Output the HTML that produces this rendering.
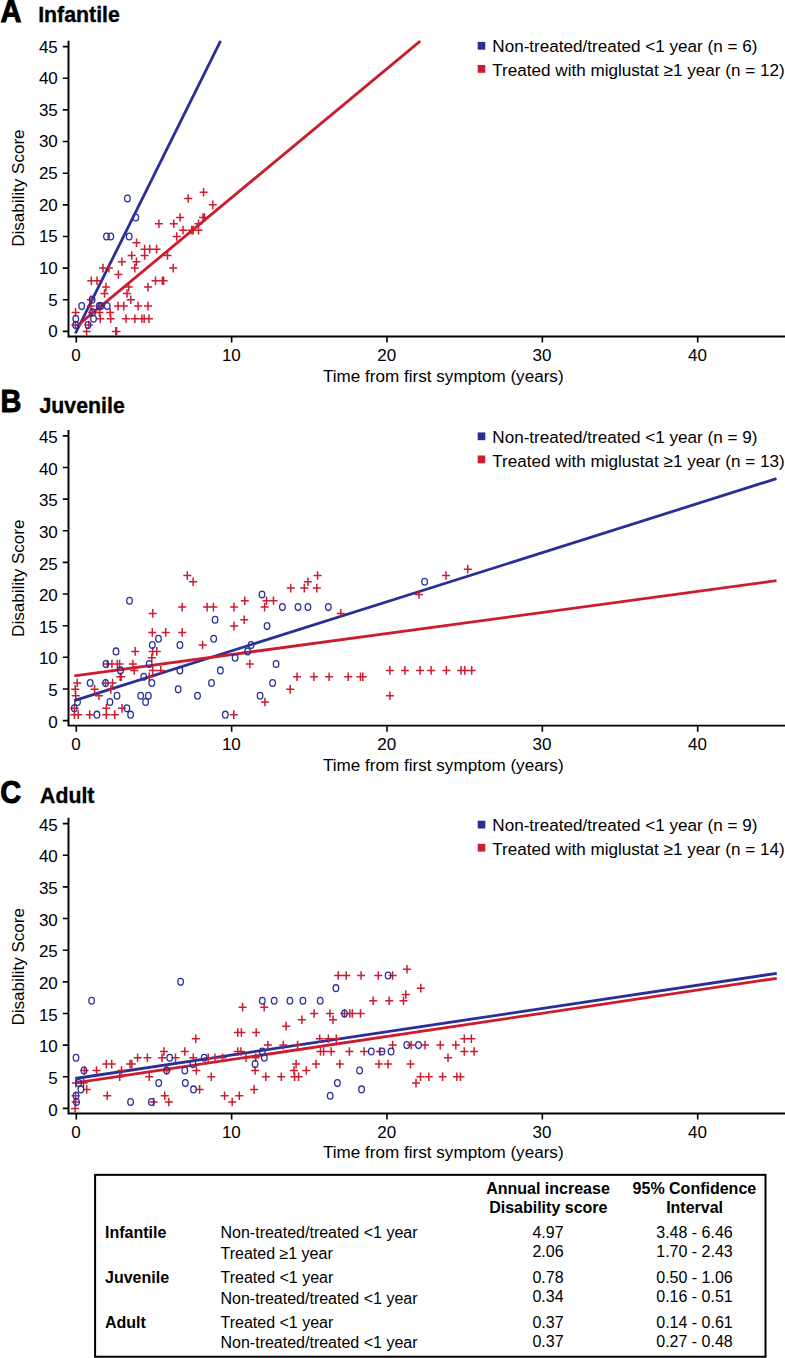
<!DOCTYPE html><html><head><meta charset="utf-8"><style>html,body{margin:0;padding:0;background:#fff;}body{width:785px;height:1358px;overflow:hidden;position:relative;}svg{position:absolute;left:0;top:0;}</style></head><body>
<svg width="785" height="1358" viewBox="0 0 785 1358" font-family='"Liberation Sans", sans-serif' font-size="17" fill="#000">
<g stroke="#000" fill="none">
<path d="M68.5 40.8 V336.4 H786" stroke-width="1.95"/>
<path d="M62.8 331.4H68M62.8 299.76H68M62.8 268.12H68M62.8 236.48H68M62.8 204.84H68M62.8 173.2H68M62.8 141.56H68M62.8 109.92H68M62.8 78.28H68M62.8 46.64H68" stroke-width="1.6"/>
<path d="M76.3 337V342.6M231.65 337V342.6M387 337V342.6M542.35 337V342.6M697.7 337V342.6" stroke-width="1.6"/>
</g>
<g text-anchor="end">
<text x="57.8" y="337.3">0</text>
<text x="57.8" y="305.66">5</text>
<text x="57.8" y="274.02">10</text>
<text x="57.8" y="242.38">15</text>
<text x="57.8" y="210.74">20</text>
<text x="57.8" y="179.1">25</text>
<text x="57.8" y="147.46">30</text>
<text x="57.8" y="115.82">35</text>
<text x="57.8" y="84.18">40</text>
<text x="57.8" y="52.54">45</text>
</g>
<g text-anchor="middle">
<text x="76" y="361.2">0</text>
<text x="231.35" y="361.2">10</text>
<text x="386.7" y="361.2">20</text>
<text x="542.05" y="361.2">30</text>
<text x="697.4" y="361.2">40</text>
</g>
<text x="323" y="381.6" font-size="17.1">Time from first symptom (years)</text>
<text transform="translate(24.2 188.1) rotate(-90)" text-anchor="middle" font-size="17.05">Disability Score</text>
<text transform="translate(0.4 22.1) scale(0.9 1)" font-weight="bold" font-size="32.2" stroke="#000" stroke-width="1.0">A</text>
<text x="38.2" y="22.3" font-weight="bold" font-size="21.3" stroke="#000" stroke-width="0.35">Infantile</text>
<rect x="477.7" y="41.9" width="7.6" height="7.8" fill="#2a2f98"/>
<rect x="477.7" y="65" width="7.6" height="7.8" fill="#cb1d2f"/>
<text x="492.3" y="52.1" font-size="17.1">Non-treated/treated &lt;1 year (n = 6)</text>
<text x="492.3" y="76" font-size="17.1">Treated with miglustat &#8805;1 year (n = 12)</text>
<line x1="75.4" y1="333.5" x2="220.6" y2="40.9" stroke="#2a2f98" stroke-width="2.8"/>
<line x1="76.8" y1="326.2" x2="420.2" y2="41.1" stroke="#cb1d2f" stroke-width="2.8"/>
<path d="M199.6 192.18h8M203.6 187.88v8.6M184.2 198.51h8M188.2 194.21v8.6M208.8 204.84h8M212.8 200.54v8.6M176.1 217.5h8M180.1 213.2v8.6M199 217.5h8M203 213.2v8.6M200.6 217.5h8M204.6 213.2v8.6M154.9 223.82h8M158.9 219.52v8.6M169.8 223.82h8M173.8 219.52v8.6M194.5 223.82h8M198.5 219.52v8.6M179 230.15h8M183 225.85v8.6M187.6 230.15h8M191.6 225.85v8.6M189.2 230.15h8M193.2 225.85v8.6M194.5 230.15h8M198.5 225.85v8.6M172.7 236.48h8M176.7 232.18v8.6M132.5 242.81h8M136.5 238.51v8.6M140.6 249.14h8M144.6 244.84v8.6M145.7 249.14h8M149.7 244.84v8.6M152.6 249.14h8M156.6 244.84v8.6M127.7 255.46h8M131.7 251.16v8.6M140.6 255.46h8M144.6 251.16v8.6M163.5 255.46h8M167.5 251.16v8.6M117.9 261.79h8M121.9 257.49v8.6M132.4 261.79h8M136.4 257.49v8.6M99 268.12h8M103 263.82v8.6M104.9 268.12h8M108.9 263.82v8.6M130.8 268.12h8M134.8 263.82v8.6M169.2 268.12h8M173.2 263.82v8.6M114.4 274.45h8M118.4 270.15v8.6M87.3 280.78h8M91.3 276.48v8.6M93 280.78h8M97 276.48v8.6M151.5 280.78h8M155.5 276.48v8.6M158.4 280.78h8M162.4 276.48v8.6M159.6 280.78h8M163.6 276.48v8.6M102 287.1h8M106 282.8v8.6M124.7 287.1h8M128.7 282.8v8.6M144 287.1h8M148 282.8v8.6M100.5 293.43h8M104.5 289.13v8.6M123 293.43h8M127 289.13v8.6M86.9 299.76h8M90.9 295.46v8.6M126.8 299.76h8M130.8 295.46v8.6M86.9 306.09h8M90.9 301.79v8.6M95.9 306.09h8M99.9 301.79v8.6M114.1 306.09h8M118.1 301.79v8.6M119.8 306.09h8M123.8 301.79v8.6M134.1 306.09h8M138.1 301.79v8.6M144 306.09h8M148 301.79v8.6M71.6 312.42h8M75.6 308.12v8.6M88.1 312.42h8M92.1 308.12v8.6M95.5 312.42h8M99.5 308.12v8.6M106.1 312.42h8M110.1 308.12v8.6M96.3 318.74h8M100.3 314.44v8.6M106.7 318.74h8M110.7 314.44v8.6M122 318.74h8M126 314.44v8.6M130.9 318.74h8M134.9 314.44v8.6M137.9 318.74h8M141.9 314.44v8.6M140.2 318.74h8M144.2 314.44v8.6M145 318.74h8M149 314.44v8.6M71.4 325.07h8M75.4 320.77v8.6M84.8 325.07h8M88.8 320.77v8.6M82.6 331.4h8M86.6 327.1v8.6M111.8 331.4h8M115.8 327.1v8.6M112.6 331.4h8M116.6 327.1v8.6" stroke="#cb1d2f" stroke-width="1.5" fill="none"/>
<g stroke="#2a2f98" stroke-width="1.3" fill="none">
<ellipse cx="127.4" cy="198.51" rx="2.8" ry="3.4"/><ellipse cx="135.8" cy="217.5" rx="2.8" ry="3.4"/><ellipse cx="106.5" cy="236.48" rx="2.8" ry="3.4"/><ellipse cx="110.8" cy="236.48" rx="2.8" ry="3.4"/><ellipse cx="129.2" cy="236.48" rx="2.8" ry="3.4"/><ellipse cx="92.1" cy="299.76" rx="2.8" ry="3.4"/><ellipse cx="81.7" cy="306.09" rx="2.8" ry="3.4"/><ellipse cx="99.2" cy="306.09" rx="2.8" ry="3.4"/><ellipse cx="100.8" cy="306.09" rx="2.8" ry="3.4"/><ellipse cx="107.2" cy="306.09" rx="2.8" ry="3.4"/><ellipse cx="92.5" cy="312.42" rx="2.8" ry="3.4"/><ellipse cx="75.8" cy="318.74" rx="2.8" ry="3.4"/><ellipse cx="93.5" cy="318.74" rx="2.8" ry="3.4"/><ellipse cx="75.6" cy="325.07" rx="2.8" ry="3.4"/><ellipse cx="88" cy="325.07" rx="2.8" ry="3.4"/>
</g>
<g stroke="#000" fill="none">
<path d="M68.5 430 V725.6 H786" stroke-width="1.95"/>
<path d="M62.8 720.6H68M62.8 688.96H68M62.8 657.32H68M62.8 625.68H68M62.8 594.04H68M62.8 562.4H68M62.8 530.76H68M62.8 499.12H68M62.8 467.48H68M62.8 435.84H68" stroke-width="1.6"/>
<path d="M76.3 726.2V731.8M231.65 726.2V731.8M387 726.2V731.8M542.35 726.2V731.8M697.7 726.2V731.8" stroke-width="1.6"/>
</g>
<g text-anchor="end">
<text x="57.8" y="727.7">0</text>
<text x="57.8" y="696.06">5</text>
<text x="57.8" y="664.42">10</text>
<text x="57.8" y="632.78">15</text>
<text x="57.8" y="601.14">20</text>
<text x="57.8" y="569.5">25</text>
<text x="57.8" y="537.86">30</text>
<text x="57.8" y="506.22">35</text>
<text x="57.8" y="474.58">40</text>
<text x="57.8" y="442.94">45</text>
</g>
<g text-anchor="middle">
<text x="76" y="750.4">0</text>
<text x="231.35" y="750.4">10</text>
<text x="386.7" y="750.4">20</text>
<text x="542.05" y="750.4">30</text>
<text x="697.4" y="750.4">40</text>
</g>
<text x="323" y="770.8" font-size="17.1">Time from first symptom (years)</text>
<text transform="translate(24.2 578.2) rotate(-90)" text-anchor="middle" font-size="17.05">Disability Score</text>
<text transform="translate(0.5 411.6) scale(0.9 1)" font-weight="bold" font-size="32.2" stroke="#000" stroke-width="1.0">B</text>
<text x="39.5" y="412.9" font-weight="bold" font-size="21.3" stroke="#000" stroke-width="0.35">Juvenile</text>
<rect x="477.7" y="432.4" width="7.6" height="7.8" fill="#2a2f98"/>
<rect x="477.7" y="455.5" width="7.6" height="7.8" fill="#cb1d2f"/>
<text x="492.3" y="442.6" font-size="17.1">Non-treated/treated &lt;1 year (n = 9)</text>
<text x="492.3" y="466.5" font-size="17.1">Treated with miglustat &#8805;1 year (n = 13)</text>
<line x1="74.3" y1="700.6" x2="776.5" y2="478.6" stroke="#2a2f98" stroke-width="2.8"/>
<line x1="74.3" y1="675.9" x2="776.5" y2="580.7" stroke="#cb1d2f" stroke-width="2.8"/>
<path d="M463.8 569.13h8M467.8 564.83v8.6M183.3 575.46h8M187.3 571.16v8.6M313.6 575.46h8M317.6 571.16v8.6M442 575.46h8M446 571.16v8.6M189.1 581.78h8M193.1 577.48v8.6M303.9 581.78h8M307.9 577.48v8.6M286.7 588.11h8M290.7 583.81v8.6M300.3 588.11h8M304.3 583.81v8.6M312.8 588.11h8M316.8 583.81v8.6M414.9 594.44h8M418.9 590.14v8.6M240.8 600.77h8M244.8 596.47v8.6M262.5 600.77h8M266.5 596.47v8.6M269.5 600.77h8M273.5 596.47v8.6M178.2 607.1h8M182.2 602.8v8.6M203.1 607.1h8M207.1 602.8v8.6M209.4 607.1h8M213.4 602.8v8.6M230 607.1h8M234 602.8v8.6M260.6 607.1h8M264.6 602.8v8.6M148.7 613.42h8M152.7 609.12v8.6M336.8 613.42h8M340.8 609.12v8.6M240.2 619.75h8M244.2 615.45v8.6M230 626.08h8M234 621.78v8.6M148.3 632.41h8M152.3 628.11v8.6M161.7 632.41h8M165.7 628.11v8.6M178.2 632.41h8M182.2 628.11v8.6M198.6 645.06h8M202.6 640.76v8.6M131.2 651.39h8M135.2 647.09v8.6M148.7 651.39h8M152.7 647.09v8.6M152.8 651.39h8M156.8 647.09v8.6M147.8 657.72h8M151.8 653.42v8.6M103.4 664.05h8M107.4 659.75v8.6M107.9 664.05h8M111.9 659.75v8.6M113.3 664.05h8M117.3 659.75v8.6M115.6 664.05h8M119.6 659.75v8.6M128.9 664.05h8M132.9 659.75v8.6M245.8 664.05h8M249.8 659.75v8.6M130.2 670.38h8M134.2 666.08v8.6M148.7 670.38h8M152.7 666.08v8.6M156.8 670.38h8M160.8 666.08v8.6M385.9 670.38h8M389.9 666.08v8.6M400.9 670.38h8M404.9 666.08v8.6M416.1 670.38h8M420.1 666.08v8.6M427.1 670.38h8M431.1 666.08v8.6M442.4 670.38h8M446.4 666.08v8.6M457 670.38h8M461 666.08v8.6M460.8 670.38h8M464.8 666.08v8.6M467.7 670.38h8M471.7 666.08v8.6M116.2 676.7h8M120.2 672.4v8.6M117.2 676.7h8M121.2 672.4v8.6M145.2 676.7h8M149.2 672.4v8.6M293 676.7h8M297 672.4v8.6M309.9 676.7h8M313.9 672.4v8.6M325.1 676.7h8M329.1 672.4v8.6M344.2 676.7h8M348.2 672.4v8.6M356.5 676.7h8M360.5 672.4v8.6M358.8 676.7h8M362.8 672.4v8.6M73.2 683.03h8M77.2 678.73v8.6M101.6 683.03h8M105.6 678.73v8.6M108.5 683.03h8M112.5 678.73v8.6M71.2 689.36h8M75.2 685.06v8.6M90.6 689.36h8M94.6 685.06v8.6M106.8 689.36h8M110.8 685.06v8.6M286.2 689.36h8M290.2 685.06v8.6M71.7 695.69h8M75.7 691.39v8.6M95 695.69h8M99 691.39v8.6M385.9 695.69h8M389.9 691.39v8.6M260.9 702.02h8M264.9 697.72v8.6M70.4 708.34h8M74.4 704.04v8.6M102.3 708.34h8M106.3 704.04v8.6M118 708.34h8M122 704.04v8.6M70.4 714.67h8M74.4 710.37v8.6M74.2 714.67h8M78.2 710.37v8.6M85.7 714.67h8M89.7 710.37v8.6M102.3 714.67h8M106.3 710.37v8.6M110.8 714.67h8M114.8 710.37v8.6M229.8 714.67h8M233.8 710.37v8.6" stroke="#cb1d2f" stroke-width="1.5" fill="none"/>
<g stroke="#2a2f98" stroke-width="1.3" fill="none">
<ellipse cx="129.5" cy="600.77" rx="2.8" ry="3.4"/><ellipse cx="116" cy="651.39" rx="2.8" ry="3.4"/><ellipse cx="105.9" cy="664.05" rx="2.8" ry="3.4"/><ellipse cx="120.5" cy="670.38" rx="2.8" ry="3.4"/><ellipse cx="90.2" cy="683.03" rx="2.8" ry="3.4"/><ellipse cx="105.6" cy="683.03" rx="2.8" ry="3.4"/><ellipse cx="117" cy="695.69" rx="2.8" ry="3.4"/><ellipse cx="77.5" cy="702.02" rx="2.8" ry="3.4"/><ellipse cx="109.9" cy="702.02" rx="2.8" ry="3.4"/><ellipse cx="74.3" cy="708.34" rx="2.8" ry="3.4"/><ellipse cx="126.9" cy="708.34" rx="2.8" ry="3.4"/><ellipse cx="96.9" cy="714.67" rx="2.8" ry="3.4"/><ellipse cx="130.6" cy="714.67" rx="2.8" ry="3.4"/><ellipse cx="158.5" cy="638.74" rx="2.8" ry="3.4"/><ellipse cx="152.3" cy="645.06" rx="2.8" ry="3.4"/><ellipse cx="179.9" cy="645.06" rx="2.8" ry="3.4"/><ellipse cx="149.2" cy="664.05" rx="2.8" ry="3.4"/><ellipse cx="179.9" cy="670.38" rx="2.8" ry="3.4"/><ellipse cx="143.8" cy="676.7" rx="2.8" ry="3.4"/><ellipse cx="151.8" cy="683.03" rx="2.8" ry="3.4"/><ellipse cx="178.2" cy="689.36" rx="2.8" ry="3.4"/><ellipse cx="140.7" cy="695.69" rx="2.8" ry="3.4"/><ellipse cx="148.3" cy="695.69" rx="2.8" ry="3.4"/><ellipse cx="197.5" cy="695.69" rx="2.8" ry="3.4"/><ellipse cx="145.6" cy="702.02" rx="2.8" ry="3.4"/><ellipse cx="215.1" cy="619.75" rx="2.8" ry="3.4"/><ellipse cx="213.7" cy="638.74" rx="2.8" ry="3.4"/><ellipse cx="251.1" cy="645.06" rx="2.8" ry="3.4"/><ellipse cx="247.6" cy="651.39" rx="2.8" ry="3.4"/><ellipse cx="235.1" cy="657.72" rx="2.8" ry="3.4"/><ellipse cx="220.4" cy="670.38" rx="2.8" ry="3.4"/><ellipse cx="211.5" cy="683.03" rx="2.8" ry="3.4"/><ellipse cx="260.1" cy="695.69" rx="2.8" ry="3.4"/><ellipse cx="225.3" cy="714.67" rx="2.8" ry="3.4"/><ellipse cx="262" cy="594.44" rx="2.8" ry="3.4"/><ellipse cx="282.4" cy="607.1" rx="2.8" ry="3.4"/><ellipse cx="298" cy="607.1" rx="2.8" ry="3.4"/><ellipse cx="307.9" cy="607.1" rx="2.8" ry="3.4"/><ellipse cx="328.3" cy="607.1" rx="2.8" ry="3.4"/><ellipse cx="267.1" cy="626.08" rx="2.8" ry="3.4"/><ellipse cx="276.1" cy="664.05" rx="2.8" ry="3.4"/><ellipse cx="272.6" cy="683.03" rx="2.8" ry="3.4"/><ellipse cx="424.6" cy="581.78" rx="2.8" ry="3.4"/>
</g>
<g stroke="#000" fill="none">
<path d="M68.5 817.8 V1113.4 H786" stroke-width="1.95"/>
<path d="M62.8 1108.4H68M62.8 1076.76H68M62.8 1045.12H68M62.8 1013.48H68M62.8 981.84H68M62.8 950.2H68M62.8 918.56H68M62.8 886.92H68M62.8 855.28H68M62.8 823.64H68" stroke-width="1.6"/>
<path d="M76.3 1114V1119.6M231.65 1114V1119.6M387 1114V1119.6M542.35 1114V1119.6M697.7 1114V1119.6" stroke-width="1.6"/>
</g>
<g text-anchor="end">
<text x="57.8" y="1115.5">0</text>
<text x="57.8" y="1083.86">5</text>
<text x="57.8" y="1052.22">10</text>
<text x="57.8" y="1020.58">15</text>
<text x="57.8" y="988.94">20</text>
<text x="57.8" y="957.3">25</text>
<text x="57.8" y="925.66">30</text>
<text x="57.8" y="894.02">35</text>
<text x="57.8" y="862.38">40</text>
<text x="57.8" y="830.74">45</text>
</g>
<g text-anchor="middle">
<text x="76" y="1138.2">0</text>
<text x="231.35" y="1138.2">10</text>
<text x="386.7" y="1138.2">20</text>
<text x="542.05" y="1138.2">30</text>
<text x="697.4" y="1138.2">40</text>
</g>
<text x="323" y="1158" font-size="17.1">Time from first symptom (years)</text>
<text transform="translate(24.2 966.8) rotate(-90)" text-anchor="middle" font-size="17.05">Disability Score</text>
<text transform="translate(0.3 802.7) scale(0.9 1)" font-weight="bold" font-size="32.2" stroke="#000" stroke-width="1.0">C</text>
<text x="40" y="802.8" font-weight="bold" font-size="21.3" stroke="#000" stroke-width="0.35">Adult</text>
<rect x="477.7" y="820.7" width="7.6" height="7.8" fill="#2a2f98"/>
<rect x="477.7" y="843.8" width="7.6" height="7.8" fill="#cb1d2f"/>
<text x="492.3" y="830.9" font-size="17.1">Non-treated/treated &lt;1 year (n = 9)</text>
<text x="492.3" y="854.8" font-size="17.1">Treated with miglustat &#8805;1 year (n = 14)</text>
<line x1="75.3" y1="1078.5" x2="776.8" y2="973.3" stroke="#2a2f98" stroke-width="2.8"/>
<line x1="75.3" y1="1082.9" x2="776.8" y2="978.3" stroke="#cb1d2f" stroke-width="2.8"/>
<path d="M403 969.18h8M407 964.88v8.6M334.2 975.51h8M338.2 971.21v8.6M342.2 975.51h8M346.2 971.21v8.6M357.1 975.51h8M361.1 971.21v8.6M374.3 975.51h8M378.3 971.21v8.6M388.6 975.51h8M392.6 971.21v8.6M416.8 988.17h8M420.8 983.87v8.6M401.8 994.5h8M405.8 990.2v8.6M369.2 1000.82h8M373.2 996.52v8.6M385.2 1000.82h8M389.2 996.52v8.6M399.5 1000.82h8M403.5 996.52v8.6M238.6 1007.15h8M242.6 1002.85v8.6M260.2 1007.15h8M264.2 1002.85v8.6M310.1 1013.48h8M314.1 1009.18v8.6M325.9 1013.48h8M329.9 1009.18v8.6M340.5 1013.48h8M344.5 1009.18v8.6M345.8 1013.48h8M349.8 1009.18v8.6M348.3 1013.48h8M352.3 1009.18v8.6M356.5 1013.48h8M360.5 1009.18v8.6M297.9 1019.81h8M301.9 1015.51v8.6M329 1019.81h8M333 1015.51v8.6M282.1 1026.14h8M286.1 1021.84v8.6M233.8 1032.46h8M237.8 1028.16v8.6M237.4 1032.46h8M241.4 1028.16v8.6M252.2 1032.46h8M256.2 1028.16v8.6M191.8 1038.79h8M195.8 1034.49v8.6M315.7 1038.79h8M319.7 1034.49v8.6M324.4 1038.79h8M328.4 1034.49v8.6M332.3 1038.79h8M336.3 1034.49v8.6M460.3 1038.79h8M464.3 1034.49v8.6M467.4 1038.79h8M471.4 1034.49v8.6M263.9 1045.12h8M267.9 1040.82v8.6M279.3 1045.12h8M283.3 1040.82v8.6M293.6 1045.12h8M297.6 1040.82v8.6M388.7 1045.12h8M392.7 1040.82v8.6M407.1 1045.12h8M411.1 1040.82v8.6M421 1045.12h8M425 1040.82v8.6M436.3 1045.12h8M440.3 1040.82v8.6M451.8 1045.12h8M455.8 1040.82v8.6M159.9 1051.45h8M163.9 1047.15v8.6M180.8 1051.45h8M184.8 1047.15v8.6M233.8 1051.45h8M237.8 1047.15v8.6M236.9 1051.45h8M240.9 1047.15v8.6M316.5 1051.45h8M320.5 1047.15v8.6M319.6 1051.45h8M323.6 1047.15v8.6M327.2 1051.45h8M331.2 1047.15v8.6M345.4 1051.45h8M349.4 1047.15v8.6M360.1 1051.45h8M364.1 1047.15v8.6M375.9 1051.45h8M379.9 1047.15v8.6M460.3 1051.45h8M464.3 1047.15v8.6M470.1 1051.45h8M474.1 1047.15v8.6M133.6 1057.78h8M137.6 1053.48v8.6M143.4 1057.78h8M147.4 1053.48v8.6M158.1 1057.78h8M162.1 1053.48v8.6M171.5 1057.78h8M175.5 1053.48v8.6M189.3 1057.78h8M193.3 1053.48v8.6M204.2 1057.78h8M208.2 1053.48v8.6M210.9 1057.78h8M214.9 1053.48v8.6M218.5 1057.78h8M222.5 1053.48v8.6M242 1057.78h8M246 1053.48v8.6M251.6 1057.78h8M255.6 1053.48v8.6M444 1057.78h8M448 1053.48v8.6M102.3 1064.1h8M106.3 1059.8v8.6M107.7 1064.1h8M111.7 1059.8v8.6M126 1064.1h8M130 1059.8v8.6M127.8 1064.1h8M131.8 1059.8v8.6M292.1 1064.1h8M296.1 1059.8v8.6M312 1064.1h8M316 1059.8v8.6M335.8 1064.1h8M339.8 1059.8v8.6M374.9 1064.1h8M378.9 1059.8v8.6M384.1 1064.1h8M388.1 1059.8v8.6M406.5 1064.1h8M410.5 1059.8v8.6M80.5 1070.43h8M84.5 1066.13v8.6M92.5 1070.43h8M96.5 1066.13v8.6M117.5 1070.43h8M121.5 1066.13v8.6M162.6 1070.43h8M166.6 1066.13v8.6M192.4 1070.43h8M196.4 1066.13v8.6M251.1 1070.43h8M255.1 1066.13v8.6M290 1070.43h8M294 1066.13v8.6M302.3 1070.43h8M306.3 1066.13v8.6M115.7 1076.76h8M119.7 1072.46v8.6M145.2 1076.76h8M149.2 1072.46v8.6M207.3 1076.76h8M211.3 1072.46v8.6M261.8 1076.76h8M265.8 1072.46v8.6M277.3 1076.76h8M281.3 1072.46v8.6M290.6 1076.76h8M294.6 1072.46v8.6M294.6 1076.76h8M298.6 1072.46v8.6M416.5 1076.76h8M420.5 1072.46v8.6M424.8 1076.76h8M428.8 1072.46v8.6M438.6 1076.76h8M442.6 1072.46v8.6M452.9 1076.76h8M456.9 1072.46v8.6M456.4 1076.76h8M460.4 1072.46v8.6M71.8 1083.09h8M75.8 1078.79v8.6M79.6 1083.09h8M83.6 1078.79v8.6M412 1083.09h8M416 1078.79v8.6M82.7 1089.42h8M86.7 1085.12v8.6M195.6 1089.42h8M199.6 1085.12v8.6M250.1 1089.42h8M254.1 1085.12v8.6M71.6 1095.74h8M75.6 1091.44v8.6M103.2 1095.74h8M107.2 1091.44v8.6M160.8 1095.74h8M164.8 1091.44v8.6M220.6 1095.74h8M224.6 1091.44v8.6M235.3 1095.74h8M239.3 1091.44v8.6M71.6 1102.07h8M75.6 1097.77v8.6M149.6 1102.07h8M153.6 1097.77v8.6M164.8 1102.07h8M168.8 1097.77v8.6M228.2 1102.07h8M232.2 1097.77v8.6M71.1 1108.4h8M75.1 1104.1v8.6" stroke="#cb1d2f" stroke-width="1.5" fill="none"/>
<g stroke="#2a2f98" stroke-width="1.3" fill="none">
<ellipse cx="91.6" cy="1000.82" rx="2.8" ry="3.4"/><ellipse cx="180.6" cy="981.84" rx="2.8" ry="3.4"/><ellipse cx="76" cy="1057.78" rx="2.8" ry="3.4"/><ellipse cx="83.9" cy="1070.43" rx="2.8" ry="3.4"/><ellipse cx="78.7" cy="1083.09" rx="2.8" ry="3.4"/><ellipse cx="80.9" cy="1089.42" rx="2.8" ry="3.4"/><ellipse cx="76" cy="1095.74" rx="2.8" ry="3.4"/><ellipse cx="76.5" cy="1102.07" rx="2.8" ry="3.4"/><ellipse cx="130.6" cy="1102.07" rx="2.8" ry="3.4"/><ellipse cx="169.7" cy="1057.78" rx="2.8" ry="3.4"/><ellipse cx="192.9" cy="1064.1" rx="2.8" ry="3.4"/><ellipse cx="166.6" cy="1070.43" rx="2.8" ry="3.4"/><ellipse cx="184.8" cy="1070.43" rx="2.8" ry="3.4"/><ellipse cx="158.7" cy="1083.09" rx="2.8" ry="3.4"/><ellipse cx="185.3" cy="1083.09" rx="2.8" ry="3.4"/><ellipse cx="193.5" cy="1089.42" rx="2.8" ry="3.4"/><ellipse cx="151.4" cy="1102.07" rx="2.8" ry="3.4"/><ellipse cx="204.2" cy="1057.78" rx="2.8" ry="3.4"/><ellipse cx="262.3" cy="1051.45" rx="2.8" ry="3.4"/><ellipse cx="264.3" cy="1057.78" rx="2.8" ry="3.4"/><ellipse cx="255.1" cy="1064.1" rx="2.8" ry="3.4"/><ellipse cx="262.3" cy="1000.82" rx="2.8" ry="3.4"/><ellipse cx="274.2" cy="1000.82" rx="2.8" ry="3.4"/><ellipse cx="289.9" cy="1000.82" rx="2.8" ry="3.4"/><ellipse cx="302.9" cy="1000.82" rx="2.8" ry="3.4"/><ellipse cx="320.2" cy="1000.82" rx="2.8" ry="3.4"/><ellipse cx="335.9" cy="988.17" rx="2.8" ry="3.4"/><ellipse cx="388.1" cy="975.51" rx="2.8" ry="3.4"/><ellipse cx="344.5" cy="1013.48" rx="2.8" ry="3.4"/><ellipse cx="337.4" cy="1083.09" rx="2.8" ry="3.4"/><ellipse cx="330.2" cy="1095.74" rx="2.8" ry="3.4"/><ellipse cx="371.3" cy="1051.45" rx="2.8" ry="3.4"/><ellipse cx="382" cy="1051.45" rx="2.8" ry="3.4"/><ellipse cx="391.1" cy="1051.45" rx="2.8" ry="3.4"/><ellipse cx="406.8" cy="1045.12" rx="2.8" ry="3.4"/><ellipse cx="418.5" cy="1045.12" rx="2.8" ry="3.4"/><ellipse cx="359.6" cy="1070.43" rx="2.8" ry="3.4"/><ellipse cx="361.6" cy="1089.42" rx="2.8" ry="3.4"/>
</g>
<rect x="95.1" y="1174.85" width="670.4" height="181.9" fill="none" stroke="#000" stroke-width="2"/>
<g font-size="16" font-weight="bold">
<text x="548" y="1193.6" text-anchor="middle">Annual increase</text>
<text x="548.3" y="1212.6" text-anchor="middle">Disability score</text>
<text x="694.4" y="1193.7" text-anchor="middle">95% Confidence</text>
<text x="694.6" y="1212.5" text-anchor="middle">Interval</text>
<text x="105" y="1237.8">Infantile</text>
<text x="105" y="1282.6">Juvenile</text>
<text x="105" y="1327.6">Adult</text>
</g>
<g font-size="16">
<text x="220.5" y="1237.8">Non-treated/treated &lt;1 year</text>
<text x="220.5" y="1259">Treated &#8805;1 year</text>
<text x="220.5" y="1282.5">Treated &lt;1 year</text>
<text x="220.5" y="1303.7">Non-treated/treated &lt;1 year</text>
<text x="220.5" y="1327.8">Treated &lt;1 year</text>
<text x="220.5" y="1348.4">Non-treated/treated &lt;1 year</text>
<text x="548" y="1237.8" text-anchor="middle">4.97</text>
<text x="694.5" y="1237.8" text-anchor="middle">3.48 - 6.46</text>
<text x="548" y="1256.9" text-anchor="middle">2.06</text>
<text x="694.5" y="1256.9" text-anchor="middle">1.70 - 2.43</text>
<text x="548" y="1282.5" text-anchor="middle">0.78</text>
<text x="694.5" y="1282.5" text-anchor="middle">0.50 - 1.06</text>
<text x="548" y="1302" text-anchor="middle">0.34</text>
<text x="694.5" y="1302" text-anchor="middle">0.16 - 0.51</text>
<text x="548" y="1327.8" text-anchor="middle">0.37</text>
<text x="694.5" y="1327.8" text-anchor="middle">0.14 - 0.61</text>
<text x="548" y="1347" text-anchor="middle">0.37</text>
<text x="694.5" y="1347" text-anchor="middle">0.27 - 0.48</text>
</g>
</svg></body></html>
